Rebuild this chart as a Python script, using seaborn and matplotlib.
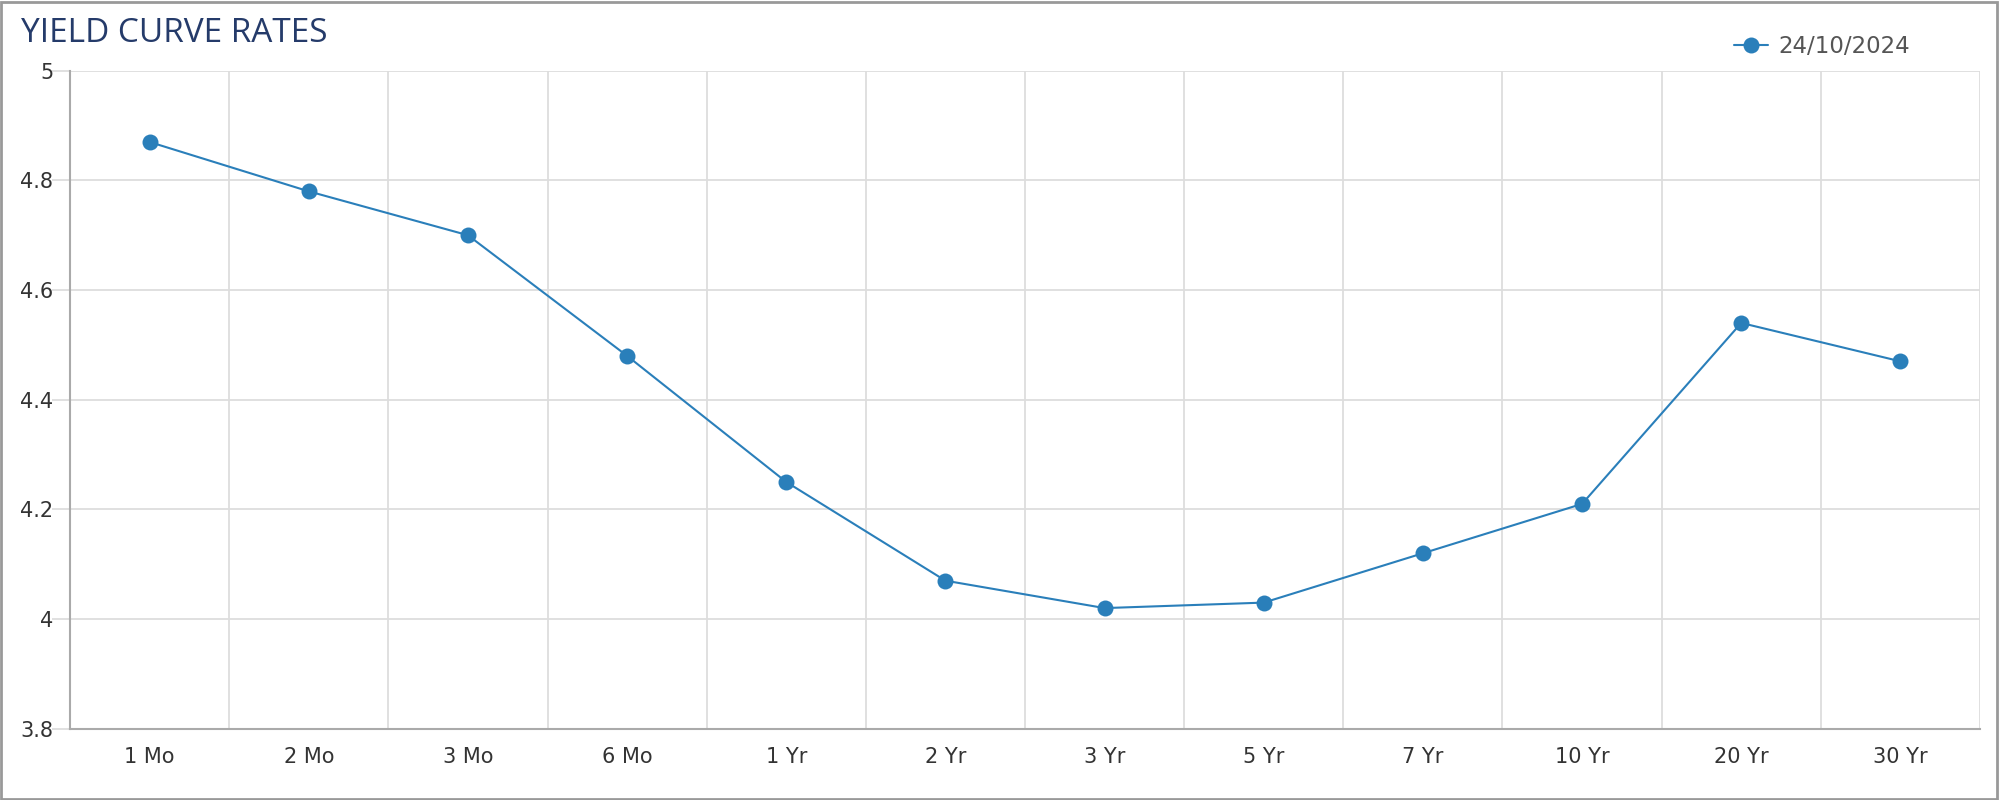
import matplotlib
matplotlib.use("Agg")
import matplotlib.pyplot as plt
import seaborn as sns
import pandas as pd
from matplotlib.patches import Rectangle
from matplotlib.lines import Line2D

tenors = ["1 Mo", "2 Mo", "3 Mo", "6 Mo", "1 Yr", "2 Yr", "3 Yr", "5 Yr", "7 Yr", "10 Yr", "20 Yr", "30 Yr"]
rates = [4.87, 4.78, 4.70, 4.48, 4.25, 4.07, 4.02, 4.03, 4.12, 4.21, 4.54, 4.47]
series_name = "24/10/2024"
y_ticks = [3.8, 4.0, 4.2, 4.4, 4.6, 4.8, 5.0]
y_tick_labels = ["3.8", "4", "4.2", "4.4", "4.6", "4.8", "5"]

df = pd.DataFrame({"tenor": tenors, "rate": rates, "date": series_name})

sns.set_theme(style="white")
plt.rcParams["font.family"] = ["DejaVu Sans"]

color = "#2a7fba"
fig = plt.figure(figsize=(20, 8), dpi=100)
ax = fig.add_axes([0.035, 0.0891, 0.955, 0.8225])

sns.lineplot(data=df, x="tenor", y="rate", hue="date", palette=[color], sort=False,
             marker="o", markersize=11.5, markeredgewidth=0, linewidth=1.5, ax=ax, legend=False)

n = len(tenors)
ax.set_xlim(-0.5, n - 0.5)
ax.set_ylim(3.8, 5.0)
ax.set_xticks(range(n))
ax.set_xticklabels(tenors)
ax.set_yticks(y_ticks)
ax.set_yticklabels(y_tick_labels)
ax.set_xlabel("")
ax.set_ylabel("")

grid_c = "#dddddd"
for yv in y_ticks[1:]:
    ax.axhline(yv, color=grid_c, lw=1.3, zorder=0)
for i in range(n):
    ax.axvline(i + 0.5, color=grid_c, lw=1.3, zorder=0)

for s in ["top", "right"]:
    ax.spines[s].set_visible(False)
ax.spines["left"].set_color("#aaaaaa")
ax.spines["bottom"].set_color("#aaaaaa")
ax.spines["left"].set_linewidth(1.5)
ax.spines["bottom"].set_linewidth(1.5)

ax.tick_params(axis="y", length=13, width=1.3, color=grid_c, pad=-1, labelsize=15, labelcolor="#333333", left=True)
ax.tick_params(axis="x", length=0, pad=13, labelsize=15, labelcolor="#333333")

fig.text(0.0105, 0.958, "YIELD CURVE RATES", fontsize=24, color="#253b6a",
         family=["Open Sans", "DejaVu Sans"], va="center", ha="left")

h = Line2D([], [], color=color, marker="o", markersize=11.5, markeredgewidth=0, linewidth=1.5)
leg = fig.legend([h], [series_name], loc="center right", bbox_to_anchor=(0.9655, 0.942),
                 frameon=False, fontsize=16.5, handlelength=1.5, handletextpad=0.45)
for t in leg.get_texts():
    t.set_color("#555555")

fig.add_artist(Rectangle((0.0005, 0.001), 0.998, 0.997, transform=fig.transFigure,
                         fill=False, edgecolor="#999999", linewidth=2))

fig.savefig("out.png", dpi=100, facecolor="white")
